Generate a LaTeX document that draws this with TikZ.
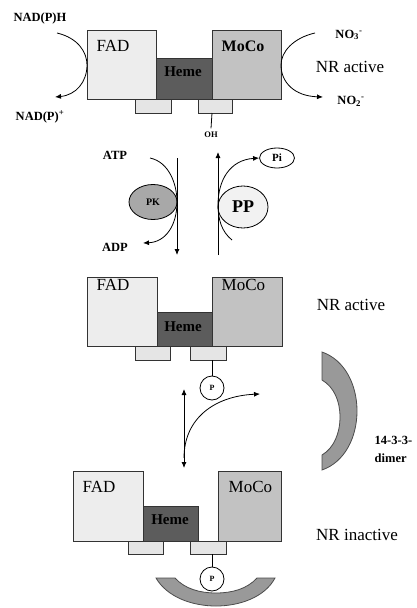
\documentclass[tikz,border=0pt]{standalone}
\usepackage{fontspec}
\setmainfont{Liberation Serif}
\usetikzlibrary{arrows.meta,shapes.geometric}
\definecolor{fadgray}{gray}{0.93}
\definecolor{hemegray}{gray}{0.36}
\definecolor{mocogray}{gray}{0.76}
\definecolor{tabgray}{gray}{0.9}
\definecolor{pkgray}{gray}{0.66}
\definecolor{ppgray}{gray}{0.95}
\definecolor{dimergray}{gray}{0.6}
\begin{document}
\begin{tikzpicture}[x=1pt, y=-1pt, line width=0.8pt,
  box/.style={draw=black!80},
  big/.style={font=\fontsize{17}{18}\selectfont},
  hem/.style={font=\bfseries\fontsize{15}{16}\selectfont},
  chem/.style={font=\bfseries\fontsize{12.5}{13}\selectfont},
  tiny/.style={font=\bfseries\fontsize{8.5}{9}\selectfont},
  arr/.style={-{Latex[length=6pt,width=5pt]}},
  phos/.style={draw, fill=white, circle, minimum size=24pt, inner sep=0pt, font=\bfseries\fontsize{8}{9}\selectfont}]
  \useasboundingbox (0,0) rectangle (417,608);
  % enzym 1 (oben)
  \draw[box, fill=fadgray]  (87,30) rectangle (156,99);
  \draw[box, fill=hemegray] (156,58) rectangle (212,99);
  \draw[box, fill=mocogray] (212,30) rectangle (281,99);
  \draw[box, fill=tabgray]  (135,99) rectangle (171,113);
  \draw[box, fill=tabgray]  (198,99) rectangle (232,113);
  \node[big, anchor=west] (fad1) at (93,46) {FAD};
  \node[hem] (heme1) at (183,72) {Heme};
  \node[big, font=\bfseries\fontsize{16}{17}\selectfont, anchor=west] (moco1) at (218,46) {MoCo};
  \node[big] (act1) at (350,67) {NR active};
  \node[tiny] (oh) at (211,135) {OH};
  \draw (212,113) -- (oh.north);
  % elektronen links, nitrat rechts
  \node[chem] (nadh) at (40,18) {NAD(P)H};
  \node[chem] (nadp) at (40,117) {NAD(P)\textsuperscript{+}};
  \node[chem] (no3) at (349,35) {NO\textsubscript{3}\textsuperscript{-}};
  \node[chem] (no2) at (351,101) {NO\textsubscript{2}\textsuperscript{-}};
  \coordinate (nadhE) at (57,33);
  \coordinate (nadpE) at (55,97);
  \coordinate (no3E) at (315,33);
  \coordinate (no2E) at (323,97);
  \draw[arr] (nadhE) .. controls (78,38) and (87,52) .. (87,65)
    .. controls (87,82) and (76,95) .. (nadpE);
  \draw[arr] (no3E) .. controls (293,38) and (281,52) .. (281,65)
    .. controls (281,82) and (294,96) .. (no2E);
  % kinase / phosphatase
  \node[chem] (atp) at (115,155) {ATP};
  \node[chem] (adp) at (115,247) {ADP};
  \node[draw, ellipse, fill=pkgray, minimum width=48pt, minimum height=35pt, inner sep=0pt,
    font=\bfseries\fontsize{10}{11}\selectfont] (pk) at (153,202) {PK};
  \node[draw, ellipse, fill=ppgray, minimum width=50pt, minimum height=42pt, inner sep=0pt,
    font=\bfseries\fontsize{18}{19}\selectfont] (pp) at (243,207) {PP};
  \node[draw, ellipse, minimum width=35pt, minimum height=20pt, inner sep=0pt,
    font=\bfseries\fontsize{11}{12}\selectfont] (pi) at (277,158) {Pi};
  \coordinate (downT) at (177,158);
  \coordinate (downB) at (177,255);
  \coordinate (upB) at (218,255);
  \coordinate (upT) at (218,152);
  \draw[arr] (downT) -- (downB);
  \draw[arr] (upB) -- (upT);
  \coordinate (atpE) at (150,158);
  \coordinate (adpE) at (143,243);
  \draw[arr] (atpE) .. controls (169,162) and (177,184) .. (177,202)
    .. controls (177,225) and (166,242) .. (adpE);
  \coordinate (ppE) at (232,240);
  \draw[arr] (ppE) .. controls (222,232) and (218,220) .. (218,205)
    .. controls (218,180) and (230,160) .. (pi.west);
  % enzym 2 (mitte)
  \draw[box, fill=fadgray]  (87,277) rectangle (157,346);
  \draw[box, fill=hemegray] (157,312) rectangle (212,346);
  \draw[box, fill=mocogray] (212,277) rectangle (282,346);
  \draw[box, fill=tabgray]  (135,346) rectangle (170,360);
  \draw[box, fill=tabgray]  (190,346) rectangle (226,360);
  \node[big, anchor=west] (fad2) at (93,285) {FAD};
  \node[hem] (heme2) at (183,327) {Heme};
  \node[big, anchor=west] (moco2) at (218,285) {MoCo};
  \node[big] (act2) at (351,305) {NR active};
  \node[phos] (p2) at (212,388) {P};
  \draw (212,360) -- (p2.north);
  % bindung 14-3-3
  \coordinate (bindT) at (184,389);
  \coordinate (bindB) at (184,468);
  \coordinate (bindR) at (260,394);
  \draw[{Latex[length=6pt,width=5pt]}-{Latex[length=6pt,width=5pt]}] (bindT) -- (bindB);
  \draw[arr] (184,458) .. controls (184,418) and (215,396) .. (bindR);
  \draw[black!70, fill=dimergray] (322,352) .. controls (345,360) and (357,385) .. (357,411)
    .. controls (357,437) and (345,462) .. (322,470) -- (322,455)
    .. controls (334,448) and (340,433) .. (340,417)
    .. controls (340,401) and (334,387) .. (322,380) -- cycle;
  \node[chem, anchor=west] (dim1) at (371,440) {14-3-3-};
  \node[chem, anchor=west] (dim2) at (371,458) {dimer};
  % enzym 3 (unten, inaktiv)
  \draw[box, fill=fadgray]  (73,471) rectangle (143,541);
  \draw[box, fill=hemegray] (143,506) rectangle (198,541);
  \draw[box, fill=mocogray] (218,471) rectangle (281,541);
  \draw[box, fill=tabgray]  (128,541) rectangle (163,554);
  \draw[box, fill=tabgray]  (190,541) rectangle (226,554);
  \node[big, anchor=west] (fad3) at (79,487) {FAD};
  \node[hem] (heme3) at (170,520) {Heme};
  \node[big, anchor=west] (moco3) at (225,487) {MoCo};
  \node[big] (inact) at (357,535) {NR inactive};
  \draw[black!70, fill=dimergray] (156,578) -- (175,578)
    .. controls (185,589) and (200,593) .. (216,593)
    .. controls (232,593) and (247,589) .. (257,578) -- (275,578)
    .. controls (265,597) and (240,606) .. (216,606)
    .. controls (192,606) and (167,597) .. (156,578) -- cycle;
  \node[phos] (p3) at (212,579) {P};
  \draw (212,554) -- (p3.north);
\end{tikzpicture}
\end{document}
